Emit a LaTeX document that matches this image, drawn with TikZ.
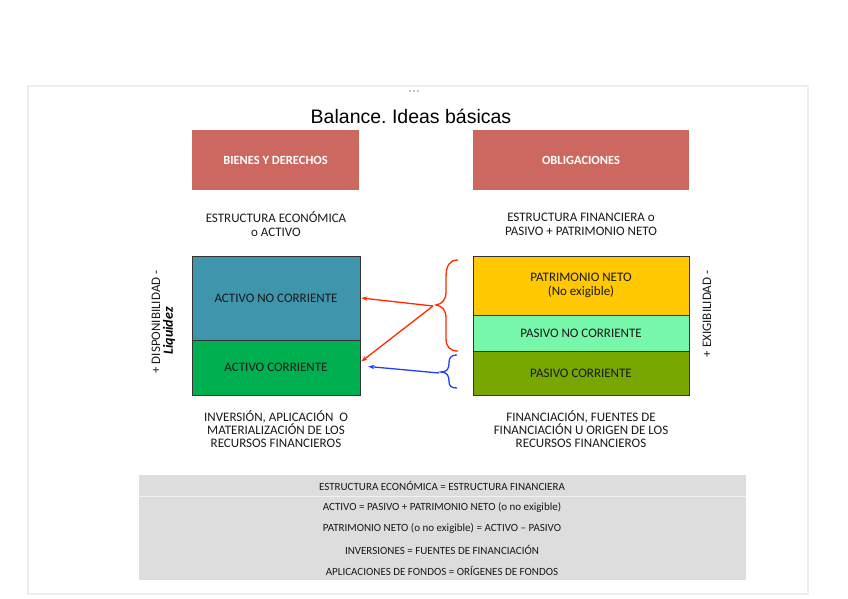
\documentclass[tikz,border=0pt]{standalone}
\usepackage{fontspec}
\setmainfont{Carlito}
\newfontfamily\titlefont{Liberation Sans}
\usetikzlibrary{arrows.meta}
\definecolor{salmon}{HTML}{CD6860}
\definecolor{tealc}{HTML}{3F95AC}
\definecolor{greenc}{HTML}{00B050}
\definecolor{yellowc}{HTML}{FFC800}
\definecolor{lgreen}{HTML}{77F7AA}
\definecolor{olive}{HTML}{77A700}
\definecolor{grayb}{HTML}{DDDDDD}
\definecolor{framec}{HTML}{EDEDED}
\definecolor{redc}{HTML}{FF2A00}
\definecolor{bluec}{HTML}{1F3FFF}
\tikzset{
  header/.style={fill=salmon, draw=none, inner sep=0pt, text=white, font=\fontsize{12.5}{14}\selectfont\bfseries, align=center},
  block/.style={draw=black!80, line width=0.8pt, inner sep=0pt, font=\fontsize{13}{13.5}\selectfont, align=center, text=black!90},
  caption/.style={font=\fontsize{13}{14}\selectfont, align=center, text=black!90, inner sep=0pt},
  caption2/.style={font=\fontsize{13}{13}\selectfont, align=center, text=black!90, inner sep=0pt},
  eqline/.style={font=\fontsize{11}{12}\selectfont, text=black!90, inner sep=0pt},
  sidelabel/.style={font=\fontsize{13}{13}\selectfont, rotate=90, text=black!90, inner sep=0pt},
  redarrow/.style={draw=redc, line width=1.3pt, -{Stealth[length=6pt,width=4.5pt]}},
  bluearrow/.style={draw=bluec, line width=1.3pt, -{Stealth[length=6pt,width=4.5pt]}},
  dot/.style={circle, fill=black!30, inner sep=0pt, minimum size=2.2pt},
}
\begin{document}
\frenchspacing
\begin{tikzpicture}[x=1pt,y=-1pt]
\useasboundingbox (0,0) rectangle (848,599);
% frame
\draw[framec, line width=1.5pt] (28,86) rectangle (808,594);
\node[dot] (d1) at (410,91) {};
\node[dot] (d2) at (414,91) {};
\node[dot] (d3) at (418,91) {};
% title
\node (title) at (411,116) {\titlefont\fontsize{19.5}{21}\selectfont Balance. Ideas básicas};
% headers
\node[header, minimum width=167pt, minimum height=60pt] (bd) at (275.5,160) {BIENES Y DERECHOS};
\node[header, minimum width=216pt, minimum height=60pt] (ob) at (581,160) {OBLIGACIONES};
% captions
\node[caption] (ee) at (276,224) {ESTRUCTURA ECONÓMICA\\o ACTIVO};
\node[caption] (ef) at (581,224) {ESTRUCTURA FINANCIERA o\\PASIVO + PATRIMONIO NETO};
% left stack
\node[block, fill=tealc, minimum width=168pt, minimum height=84pt] (anc) at (276,298) {ACTIVO NO CORRIENTE};
\node[block, fill=greenc, minimum width=168pt, minimum height=55pt] (ac) at (276,367.5) {ACTIVO CORRIENTE};
% right stack
\node[block, fill=yellowc, minimum width=216pt, minimum height=59pt] (pn) at (581,285.5) {PATRIMONIO NETO\\(No exigible)};
\node[block, fill=lgreen, minimum width=216pt, minimum height=36pt] (pnc) at (581,333) {PASIVO NO CORRIENTE};
\node[block, fill=olive, minimum width=216pt, minimum height=44pt] (pc) at (581,373) {PASIVO CORRIENTE};
% side labels
\node[sidelabel] (disp) at (156,322) {+ DISPONIBILIDAD -};
\node[sidelabel, font=\fontsize{14}{14}\selectfont\bfseries\itshape, text=black] (liq) at (169,331) {Liquidez};
\node[sidelabel] (exig) at (707,314) {+ EXIGIBILIDAD -};
% braces
\draw[redc, line width=1.3pt] (458,260) .. controls (449,260) and (446,266) .. (446,278) -- (446,292) .. controls (446,300) and (442,304) .. (436,305) .. controls (442,306) and (446,310) .. (446,318) -- (446,338) .. controls (446,347) and (450,351) .. (458,351);
\draw[bluec, line width=1.3pt] (457,355) .. controls (450,355) and (449,359) .. (449,363) .. controls (449,369) and (447,372) .. (441,372) .. controls (447,372) and (449,376) .. (449,381) .. controls (449,386) and (451,388) .. (457,388);
\coordinate (rtip) at (433,306);
\coordinate (btip) at (439,373);
\draw[redarrow] (rtip) -- ([xshift=1pt]anc.east);
\draw[redarrow] (rtip) -- ([xshift=1pt,yshift=6pt]ac.east);
\draw[bluearrow] (btip) -- ([xshift=8pt,yshift=1pt]ac.east);
% lower captions
\node[caption2] (inv) at (276,429) {INVERSIÓN, APLICACIÓN\ \ O\\MATERIALIZACIÓN DE LOS\\RECURSOS FINANCIEROS};
\node[caption2] (fin) at (581,429) {FINANCIACIÓN, FUENTES DE\\FINANCIACIÓN U ORIGEN DE LOS\\RECURSOS FINANCIEROS};
% gray box
\fill[grayb] (139,475) rectangle (746,580);
\draw[white!60!grayb, line width=1pt] (139,496.5) -- (746,496.5);
\node[eqline] (e1) at (442,486) {ESTRUCTURA ECONÓMICA = ESTRUCTURA FINANCIERA};
\node[eqline] (e2) at (442,507) {ACTIVO = PASIVO + PATRIMONIO NETO (o no exigible)};
\node[eqline] (e3) at (442,528) {PATRIMONIO NETO (o no exigible) = ACTIVO – PASIVO};
\node[eqline] (e4) at (442,550) {INVERSIONES = FUENTES DE FINANCIACIÓN};
\node[eqline] (e5) at (442,571) {APLICACIONES DE FONDOS = ORÍGENES DE FONDOS};
\end{tikzpicture}
\end{document}
